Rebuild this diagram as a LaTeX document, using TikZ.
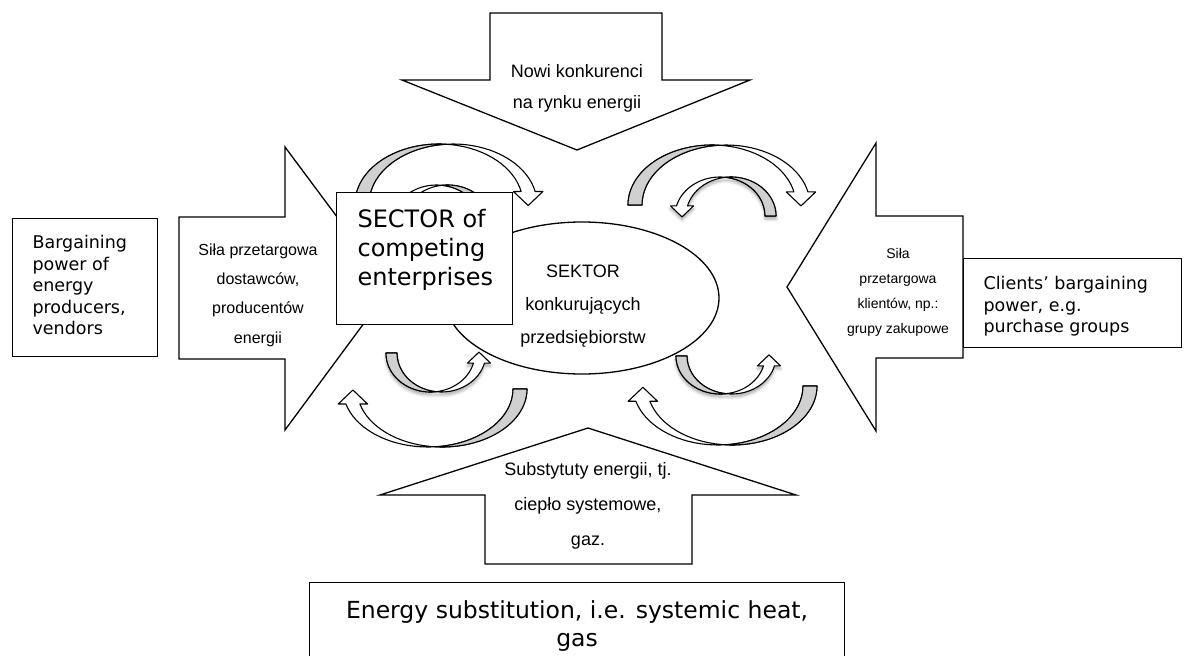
\documentclass[tikz,border=0pt]{standalone}
\usepackage{fontspec}
\setmainfont{Liberation Sans}
\newfontfamily\verd{DejaVu Sans}
\usetikzlibrary{shadows.blur}
\definecolor{arrowgray}{RGB}{208,208,208}
\tikzset{
  blockarrow/.style={draw=black, fill=white, line width=1.3pt, line join=miter},
  carrowline/.style={draw=black, line width=1.1pt, line join=round},
  smallshadow/.style={blur shadow={shadow xshift=0pt, shadow yshift=-3pt, shadow blur radius=3pt, shadow blur steps=6, shadow opacity=35}},
  noshadow/.style={},
  ptext/.style={font=\fontsize{18}{31}\selectfont, align=center, inner sep=0pt, anchor=base},
  ebox/.style={draw=black, line width=1.1pt, fill=white, inner sep=0pt, anchor=north west},
}
% curved arrow: #1 cA, #2 cy, #3 a, #4 b, #5 w, #6 s, #7 v, #8 phi, #9 extra style
\newcommand\carrow[9]{%
  \pgfmathsetmacro\cTc{acos(-(#5)/(2*(#3)))}%
  \pgfmathsetmacro\cTe{180-(#8)}%
  \pgfmathsetmacro\cTb{180-\cTc}%
  \pgfmathsetmacro\cXa{#1+(#6)*(#3)*cos(#8)}%
  \pgfmathsetmacro\cXb{#1+(#6)*(#5)+(#6)*(#3)*cos(#8)}%
  \pgfmathsetmacro\cYb{#2+(#7)*(#4)*sin(#8)}%
  \pgfmathsetmacro\cXm{(\cXa+\cXb)/2}%
  \pgfmathsetmacro\cXi{\cXa-(#6)*0.55*(#5)}%
  \pgfmathsetmacro\cXo{\cXb+(#6)*0.55*(#5)}%
  \pgfmathsetmacro\cYt{\cYb-(#7)*(#5)}%
  \path[carrowline, fill=white, #9]
    plot[domain=0:\cTe, samples=40] ({#1-(#6)*(#3)*cos(\x)},{#2+(#7)*(#4)*sin(\x)})
    -- (\cXi,\cYb) -- (\cXm,\cYt) -- (\cXo,\cYb)
    -- plot[domain=\cTe:0, samples=40] ({#1+(#6)*(#5)-(#6)*(#3)*cos(\x)},{#2+(#7)*(#4)*sin(\x)})
    -- cycle;
  \path[carrowline, fill=arrowgray]
    plot[domain=0:\cTc, samples=30] ({#1-(#6)*(#3)*cos(\x)},{#2+(#7)*(#4)*sin(\x)})
    -- plot[domain=\cTb:0, samples=30] ({#1+(#6)*(#5)-(#6)*(#3)*cos(\x)},{#2+(#7)*(#4)*sin(\x)})
    -- cycle;
}
\begin{document}
\begin{tikzpicture}[x=1pt, y=-1pt]
\useasboundingbox (0,0) rectangle (1184,656);
% block arrows
\draw[blockarrow] (490,13) -- (662,13) -- (662,80) -- (750,80) -- (577,150) -- (402,80) -- (490,80) -- cycle;
\draw[blockarrow] (179,217) -- (285,217) -- (285,147) -- (390,288) -- (285,430) -- (285,359) -- (179,359) -- cycle;
\draw[blockarrow] (963,216) -- (876,216) -- (876,143) -- (787,287) -- (876,431) -- (876,358) -- (963,358) -- cycle;
\draw[blockarrow] (485,564) -- (485,495) -- (380,495) -- (588,428) -- (796,495) -- (692,495) -- (692,564) -- cycle;
\node[ptext] (newtxt) at (577,108.3) {Nowi konkurenci\\na rynku energii};
\node[ptext, font=\fontsize{16}{29.3}\selectfont] (suptxt) at (258,343) {Siła przetargowa\\dostawców,\\producentów\\energii};
\node[ptext, font=\fontsize{14}{25}\selectfont] (clitxt) at (898,333.3) {Siła\\przetargowa\\klientów, np.:\\grupy zakupowe};
\node[ptext, font=\fontsize{18}{35}\selectfont] (subtxt) at (588,545) {Substytuty energii, tj.\\ciepło systemowe,\\gaz.};
% ellipse
\draw[line width=1.3pt, fill=white] (582,298) ellipse [x radius=137pt, y radius=76pt];
\node[ptext, font=\fontsize{18}{33}\selectfont] (sektortxt) at (583,343.3) {SEKTOR\\konkurujących\\przedsiębiorstw};
% curved arrows
\carrow{447.5}{224}{45}{39}{11}{-1}{-1}{15}{noshadow}
\carrow{439}{204}{84}{60}{14}{1}{-1}{12}{noshadow}
\carrow{712}{205}{84}{60}{14}{1}{-1}{12.6}{noshadow}
\carrow{731}{216}{45}{39}{11}{-1}{-1}{15}{smallshadow}
\carrow{430.5}{353}{44.5}{39}{11}{1}{1}{15}{smallshadow}
\carrow{720.5}{356}{44.5}{38}{11}{1}{1}{15}{smallshadow}
\carrow{442}{389}{85}{58}{14}{-1}{1}{15}{noshadow}
\carrow{732}{386}{85}{59}{14}{-1}{1}{15}{noshadow}
% text boxes
\node[ebox] (sector) at (336,192) {\parbox[c][132pt][t]{176pt}{\verd\fontsize{24}{29}\selectfont\raggedright\leftskip=21pt\relax\vspace*{17pt}SECTOR of\\competing\\enterprises}};
\node[ebox] (bargain) at (12,218) {\parbox[c][138pt][t]{145pt}{\verd\fontsize{17.5}{21.5}\selectfont\raggedright\leftskip=20pt\relax\vspace*{17pt}Bargaining\\power of\\energy\\producers,\\vendors}};
\node[ebox] (clients) at (963,258) {\parbox[c][89pt][t]{218pt}{\verd\fontsize{17.5}{21.5}\selectfont\raggedright\leftskip=20pt\relax\vspace*{17.7pt}Clients’ bargaining\\power, e.g.\\purchase groups}};
\node[ebox] (substit) at (309,582) {\parbox[c][90pt][t]{535pt}{\verd\fontsize{23.5}{28}\selectfont\centering\vspace*{18pt}Energy substitution, i.e. systemic heat,\\gas}};
\end{tikzpicture}
\end{document}
